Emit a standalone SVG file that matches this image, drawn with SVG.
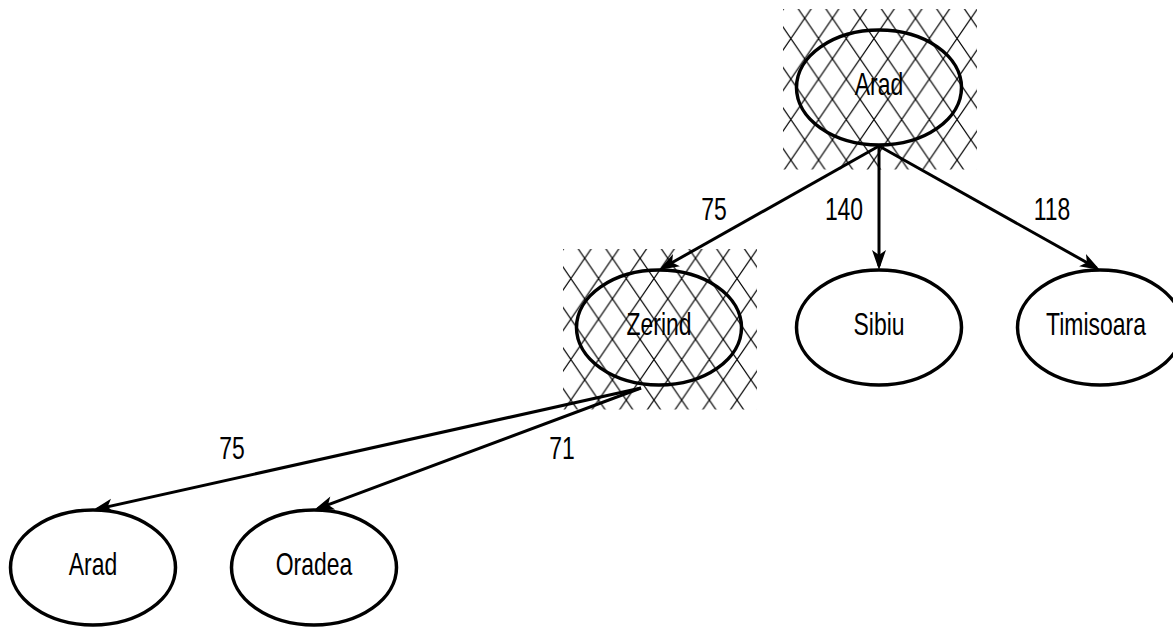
<svg xmlns="http://www.w3.org/2000/svg" width="1173" height="632" viewBox="0 0 1173 632">
  <style>
    .node { fill: #ffffff; stroke: #000000; stroke-width: 3.5; }
    .visited { fill: none; stroke: #000000; stroke-width: 3.5; }
    .hatch { fill: url(#crosshatch); stroke: none; }
    .label { font-family: "Liberation Sans", Arial, sans-serif; font-size: 31px; fill: #000000; text-anchor: middle; }
    .edge { fill: none; stroke: #000000; stroke-width: 3; marker-end: url(#arrow); }
  </style>
  <defs>
    <pattern id="crosshatch" patternUnits="userSpaceOnUse" x="-74.3" y="-69.2" width="27.7" height="40.5">
      <path d="M0,0 L27.7,40.5 M27.7,0 L0,40.5" stroke="#000000" stroke-width="1.25" fill="none"/>
    </pattern>
    <marker id="arrow" markerUnits="userSpaceOnUse" markerWidth="24" markerHeight="16" refX="16" refY="7" orient="auto" overflow="visible">
      <path d="M0,0 L20,7 L0,14 L5,7 z" fill="#000000"/>
    </marker>
  </defs>

  <g id="node-arad-root" transform="translate(879,87.5)">
    <rect class="hatch" x="-96" y="-78.5" width="194" height="160.5"/>
    <ellipse class="visited" cx="0" cy="0" rx="82.5" ry="57.5"/>
    <text class="label" transform="translate(0,7.5) scale(0.74,1)">Arad</text>
  </g>

  <g id="node-zerind" transform="translate(659,327.5)">
    <rect class="hatch" x="-96" y="-78.5" width="194" height="160.5"/>
    <ellipse class="visited" cx="0" cy="0" rx="82.5" ry="57.5"/>
    <text class="label" transform="translate(0,7.5) scale(0.74,1)">Zerind</text>
  </g>

  <g id="node-sibiu" transform="translate(879,327.5)">
    <ellipse class="node" cx="0" cy="0" rx="82.5" ry="57.5"/>
    <text class="label" transform="translate(0,7.5) scale(0.74,1)">Sibiu</text>
  </g>

  <g id="node-timisoara" transform="translate(1100,327.5)">
    <ellipse class="node" cx="0" cy="0" rx="82.5" ry="57.5"/>
    <text class="label" transform="translate(-4,7.5) scale(0.74,1)">Timisoara</text>
  </g>

  <g id="node-arad-leaf" transform="translate(93,567.5)">
    <ellipse class="node" cx="0" cy="0" rx="82.5" ry="57.5"/>
    <text class="label" transform="translate(0,7.5) scale(0.74,1)">Arad</text>
  </g>

  <g id="node-oradea" transform="translate(314,567.5)">
    <ellipse class="node" cx="0" cy="0" rx="82.5" ry="57.5"/>
    <text class="label" transform="translate(0,7.5) scale(0.74,1)">Oradea</text>
  </g>

  <g id="connectors">
    <path class="edge" d="M879,146 L662.5,268"/>
    <path class="edge" d="M879,146 L879,266"/>
    <path class="edge" d="M879,146 L1096.5,268"/>
    <path class="edge" d="M641,388 L96.9,509.1"/>
    <path class="edge" d="M641,388 L317.75,508.6"/>
    <text class="label" transform="translate(714,220) scale(0.74,1)">75</text>
    <text class="label" transform="translate(844,220) scale(0.74,1)">140</text>
    <text class="label" transform="translate(1052,220) scale(0.74,1)">118</text>
    <text class="label" transform="translate(232,459) scale(0.74,1)">75</text>
    <text class="label" transform="translate(562,459) scale(0.74,1)">71</text>
  </g>
</svg>
